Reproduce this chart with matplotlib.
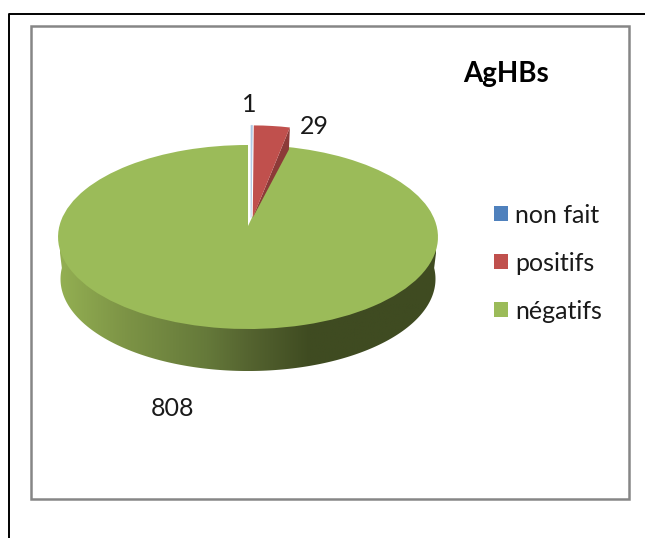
import numpy as np
import matplotlib
matplotlib.use("Agg")
import matplotlib.pyplot as plt
from matplotlib.colors import LinearSegmentedColormap
from matplotlib.patches import Patch, Polygon, Rectangle
from matplotlib.transforms import Transform

plt.rcParams['font.family'] = ['Lato', 'DejaVu Sans']

# Data
categories = ['non fait', 'positifs', 'négatifs']
values = [1, 29, 808]
colors = ['#4F81BD', '#C0504D', '#9BBB59']
title = 'AgHBs'

# Pie geometry in pixels (apex of the pie, perspective)
CX, CY = 248, 226
SX, SY, K = 188.6, 90.7, 0.1196
DEPTH = 42


class Perspective(Transform):
    # unit circle -> tilted disc, in figure pixel coordinates
    input_dims = output_dims = 2

    def __init__(self, lift=1.0, dx=0.0):
        super().__init__()
        self.lift = lift
        self.dx = dx

    def transform_non_affine(self, xy):
        xy = np.asarray(xy, dtype=float)
        w = 1 + K * xy[:, 1]
        return np.column_stack([CX + self.dx + SX * xy[:, 0] / w,
                                CY - self.lift * SY * xy[:, 1] / w])


fig = plt.figure(figsize=(6.45, 5.38), dpi=100, facecolor='white')
ax = fig.add_axes([0, 0, 1, 1])

wedges, _ = ax.pie(values, colors=colors, startangle=90, counterclock=False,
                   explode=[0.08, 0.08, 0])
ax.set_aspect('auto')
ax.set_xlim(0, 645)
ax.set_ylim(538, 0)
ax.axis('off')

base = Perspective()
small = Perspective(lift=1.16, dx=3)
wedges[0].set_transform(small + ax.transData)
wedges[1].set_transform(small + ax.transData)
wedges[2].set_transform(base + ax.transData)
wedges[0].set(facecolor='#9DBBDD', edgecolor='#B4CCE6', linewidth=0.6, zorder=4)
wedges[1].set(edgecolor='none', zorder=5)
wedges[2].set(edgecolor='none', zorder=3)

# dark cut face of the positive slice
end = np.radians(90 - 360 * sum(values[:2]) / sum(values))
cx, cy = wedges[1].center
apex = small.transform_non_affine(np.array([[cx, cy]]))[0]
outer = small.transform_non_affine(np.array([[cx + np.cos(end), cy + np.sin(end)]]))[0]
ax.add_patch(Polygon([apex, outer, outer + [-1, 22]], closed=True,
                     facecolor='#8C3A38', edgecolor='none', zorder=4))

# side of the disc, gradient clipped to the outline
t = np.linspace(np.pi, 2 * np.pi, 200)
rim = base.transform_non_affine(np.column_stack([np.cos(t), np.sin(t)]))
rim[:, 0] = CX + 0.987 * (rim[:, 0] - CX)
rim[:, 1] += DEPTH
side = Polygon(np.vstack([[58, 237], rim, [438, 237]]), closed=True, transform=ax.transData,
               facecolor='none', edgecolor='none')
ax.add_patch(side)
stops = [(0.0, '#93AF52'), (0.17, '#7D9446'), (0.39, '#65793A'), (0.50, '#556430'),
         (0.665, '#3F4B21'), (1.0, '#3F4B21')]
grad_cmap = LinearSegmentedColormap.from_list('side', stops)
im = ax.imshow(np.linspace(0, 1, 256)[None, :], cmap=grad_cmap, aspect='auto',
               extent=(60, 436, 371, 237), zorder=1)
im.set_clip_path(side)
ax.set_xlim(0, 645)
ax.set_ylim(538, 0)

# frames
ax.add_patch(Rectangle((30.5, 26), 598, 473, facecolor='none', edgecolor='#868686',
                       linewidth=1.8, zorder=6))
ax.plot([9, 9, 645], [538, 14, 14], color='black', lw=1.4, zorder=6)

# labels
ax.text(249, 105, str(values[0]), fontsize=18, ha='center', va='center', color='#1a1a1a', zorder=7)
ax.text(314, 127, str(values[1]), fontsize=18, ha='center', va='center', color='#1a1a1a', zorder=7)
ax.text(173, 408, str(values[2]), fontsize=18, ha='center', va='center', color='#1a1a1a', zorder=7)
ax.text(506, 74, title, fontsize=20, fontweight='bold', ha='center', va='center', color='black', zorder=7)

handles = [Patch(facecolor=c, edgecolor='none') for c in colors]
fig.legend(handles, categories, loc='center left', bbox_to_anchor=(494 / 645, 1 - 263 / 538),
           frameon=False, fontsize=18, handlelength=0.56, handleheight=0.56,
           handletextpad=0.28, labelspacing=1.0, labelcolor='#1a1a1a', borderpad=0, borderaxespad=0)

fig.savefig('out.png', dpi=100)
